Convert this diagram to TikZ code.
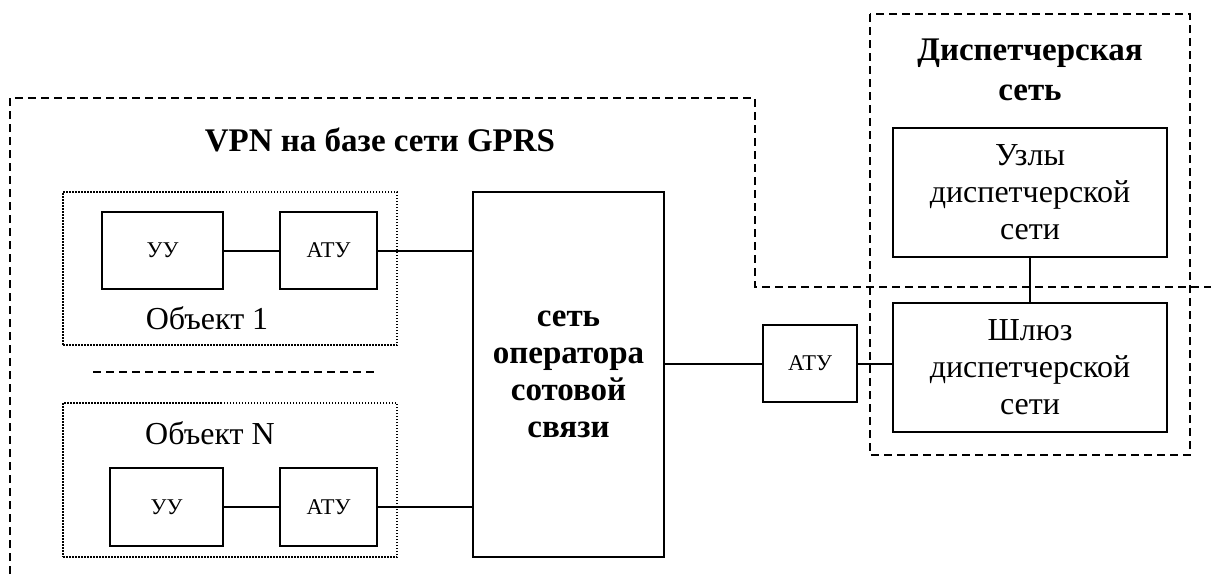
\documentclass[tikz,border=0pt]{standalone}
\usepackage{fontspec}
\setmainfont{Liberation Serif}
\usepackage{tikz}
\usetikzlibrary{calc}

\begin{document}
\begin{tikzpicture}[x=1pt,y=-1pt,
  every node/.style={font=\fontsize{32}{37}\selectfont,align=center},
  blk/.style={draw,line width=2pt,inner sep=0pt},
  smallblk/.style={blk,font=\fontsize{22.5}{26}\selectfont},
  objbox/.style={draw,line width=1.5pt,dash pattern=on 1.5pt off 1.5pt,inner sep=0pt},
  zone/.style={line width=2pt,dash pattern=on 8pt off 5pt},
  link/.style={line width=2pt}]
\useasboundingbox (0,0) rectangle (1211,574);
% zones
\draw[zone] (10,574) -- (10,98) -- (755,98) -- (755,287) -- (1211,287);
\draw[zone] (870,14) rectangle (1190,455);
\node[font=\fontsize{33}{37}\selectfont\bfseries] (vpnlbl) at (380,140) {VPN на базе сети GPRS};
\node[font=\fontsize{33}{40}\selectfont\bfseries] (displbl) at (1030,70) {Диспетчерская\\сеть};
% objects
\node[objbox,minimum width=334pt,minimum height=153pt] (obj1) at (230,268.5) {};
\node[objbox,minimum width=334pt,minimum height=154pt] (objn) at (230,480) {};
\node (obj1lbl) at (207,318) {Объект 1};
\node (objnlbl) at (210,433) {Объект N};
\node[smallblk,minimum width=121pt,minimum height=77pt] (uu1) at (162.5,250.5) {УУ};
\node[smallblk,minimum width=97pt,minimum height=77pt] (atu1) at (328.5,250.5) {АТУ};
\node[smallblk,minimum width=113pt,minimum height=78pt] (uun) at (166.5,507) {УУ};
\node[smallblk,minimum width=97pt,minimum height=78pt] (atun) at (328.5,507) {АТУ};
\draw[zone,line width=1.6pt] (93,372) -- (378,372);
% operator and dispatch side
\node[blk,minimum width=191pt,minimum height=365pt,font=\fontsize{33}{37}\selectfont\bfseries] (op) at (568.5,374.5) {сеть\\оператора\\сотовой\\связи};
\node[smallblk,minimum width=94pt,minimum height=77pt] (atu) at (810,363.5) {АТУ};
\node[blk,minimum width=274pt,minimum height=129pt] (uzly) at (1030,192.5) {Узлы\\диспетчерской\\сети};
\node[blk,minimum width=274pt,minimum height=129pt] (shluz) at (1030,367.5) {Шлюз\\диспетчерской\\сети};
% links
\draw[link] (uu1) -- (atu1);
\draw[link] (uun) -- (atun);
\draw[link] (atu1.east) -- (atu1.east -| op.west);
\draw[link] (atun.east) -- (atun.east -| op.west);
\draw[link] (atu.west -| op.east) -- (atu.west);
\draw[link] (atu.east) -- (atu.east -| shluz.west);
\draw[link] (uzly) -- (shluz);
\end{tikzpicture}
\end{document}
